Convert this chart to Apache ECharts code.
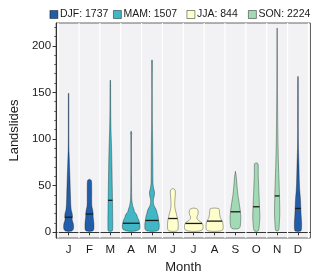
<!DOCTYPE html>
<html>
<head>
<meta charset="utf-8">
<script src="https://cdn.jsdelivr.net/npm/echarts@6/dist/echarts.min.js"></script>
<style>
html,body{margin:0;padding:0;background:#fff;}
#chart{width:320px;height:279px;}
</style>
</head>
<body>
<div id="chart"></div>
<script>
// ---- data ----
const monthLabels = ['J','F','M','A','M','J','J','A','S','O','N','D'];
const seasonNames = ['DJF','MAM','JJA','SON'];
const seasonTotals = [1737, 1507, 844, 2224];
const seasonOfMonth = [0,0,1,1,1,2,2,2,3,3,3,0];
const medians = [16.2, 19.6, 34.3, 9.7, 12.7, 14.8, 9.5, 12, 22, 27.4, 39, 25.6];
// violin density profiles per month: [landslides, relative density]
const violinProfiles = [
  [[1,0],[1.5,3.3],[3,4.7],[6,5.1],[9,4.9],[12,4.0],[14,3.6],[17,3.9],[20,3.7],[24,2.7],[30,2.2],[40,1.9],[58,1.4],[70,1.0],[80,0.7],[88,0.4],[100,0.3],[149,0.25],[149,0]],
  [[1,0],[1.5,3.4],[3,4.4],[6,4.6],[10,4.5],[14,4.1],[17,3.8],[21,3.7],[25,3.1],[28,2.5],[32,2.3],[45,2.3],[53,2.2],[56,1.7],[57,0]],
  [[1,0],[1.5,2],[3,2.4],[10,2.5],[30,2.3],[50,2.0],[70,1.7],[90,1.3],[100,1.0],[110,0.7],[130,0.4],[163,0.25],[163,0]],
  [[1,0],[1.5,5],[3,8.2],[5,9.0],[8,8.9],[11,8.3],[13.4,7.7],[16,6.5],[18.7,5.7],[22,3.5],[25.8,2.5],[28,1.7],[32,1],[36,0.6],[50,0.4],[80,0.3],[104,0.4],[106.5,0.6],[108.5,0]],
  [[1,0],[1.5,5],[3,7],[6,7.4],[9.6,7.3],[13,6.7],[17,6.2],[20,5.4],[24,4.4],[28,2.4],[31,1.5],[35,1.4],[39,2.3],[43,2.6],[47,1.7],[52,1],[60,0.9],[80,0.8],[100,0.6],[115,0.4],[150,0.3],[181,0.4],[183,0.6],[185,0]],
  [[1,0],[1.5,4],[3,5.2],[6,5.5],[10,5.4],[14,4.9],[17,4.2],[21,3.3],[25,2.3],[29,1.9],[34,2],[38,2.3],[43,2.6],[45.5,2.2],[47,0]],
  [[1,0],[1.5,6],[3,9],[5,9.5],[8,9.3],[10.5,8],[12.5,5],[15,3.2],[17,3.4],[19,4.3],[21.5,4.6],[24,4.1],[25.3,3],[26,0]],
  [[1,0],[1.5,6],[3,8.4],[6,8.7],[9,8.5],[11.5,8],[13.5,7],[16,5.8],[19,5.3],[22,5],[24.5,4.8],[25.5,4.2],[26,0]],
  [[3.5,0],[4,3.5],[6,4.8],[9,5.2],[12,5.4],[16,5.5],[19,5.3],[23,5],[26,4.6],[30,4],[33,3.6],[38,2.8],[43.5,2.2],[50,1.6],[54,1.3],[60,0.8],[65.4,0]],
  [[1,0],[1.5,2],[4,2.8],[9,3.2],[14,3.6],[19,3.6],[25,3.4],[30,3.2],[36,3],[45,2.6],[54,2.3],[62,2],[70,2],[73.5,1.8],[74.5,0]],
  [[1.5,0],[2,1.5],[5,2],[12,2.4],[20,2.7],[26,2.7],[39,2.4],[54,2],[72,1.4],[90,1],[110,0.7],[150,0.4],[190,0.3],[218.8,0.25],[218.8,0]],
  [[1,0],[1.5,3],[4,3.6],[9.9,3.7],[18.7,3.2],[26,2.9],[36,2.5],[45,1.8],[54,1.4],[72,1],[90,0.5],[110,0.35],[167,0.25],[167,0]]
];
const yTicks = [0, 50, 100, 150, 200];
const yMinorTicks = [10,20,30,40,60,70,80,90,110,120,130,140,160,170,180,190,210,220];

// ---- chart ----
const seasonColors = ['#225ea8', '#41b6c4', '#ffffcc', '#a1dab4'];
const REF_BAND = 21.34;
const FONT = '"Liberation Sans", Arial, sans-serif';

function densityAt(prof, v) {
  for (let i = 0; i < prof.length - 1; i++) {
    const a = prof[i], b = prof[i + 1];
    if (v >= a[0] && v <= b[0]) {
      const t = b[0] === a[0] ? 0 : (v - a[0]) / (b[0] - a[0]);
      return a[1] + t * (b[1] - a[1]);
    }
  }
  return 0;
}

function renderViolin(params, api) {
  const m = api.value(0);
  const prof = violinProfiles[m - 1];
  const cx = api.coord([m, 0])[0];
  const scale = api.size([1, 0])[0] / REF_BAND;
  const right = [], left = [];
  prof.forEach(function (p) {
    const y = api.coord([m, p[0]])[1];
    right.push([cx + p[1] * scale, y]);
    left.push([cx - p[1] * scale, y]);
  });
  const pts = right.concat(left.reverse());
  const med = medians[m - 1];
  const hw = densityAt(prof, med) * scale;
  const ym = api.coord([m, med])[1];
  return {
    type: 'group',
    children: [
      { type: 'polygon', shape: { points: pts, smooth: 0.25 },
        style: { fill: api.visual('color'), stroke: 'rgba(0,0,0,0.55)', lineWidth: 0.6 } },
      { type: 'line', shape: { x1: cx - hw, y1: ym, x2: cx + hw, y2: ym },
        style: { stroke: '#1a1a1a', lineWidth: 1.3 } }
    ]
  };
}

const series = seasonNames.map(function (s, si) {
  const data = [];
  seasonOfMonth.forEach(function (so, mi) { if (so === si) data.push([mi + 1, medians[mi]]); });
  return {
    type: 'custom',
    name: s + ': ' + seasonTotals[si],
    renderItem: renderViolin,
    itemStyle: { color: seasonColors[si] },
    encode: { x: 0, y: 1 },
    data: data,
    z: 3
  };
});

// white vertical separators between months
const sepPositions = monthLabels.map(function (_, i) { return i + 0.5; }).concat([monthLabels.length + 0.5]);
series.push({
  type: 'custom',
  name: 'sep',
  silent: true,
  z: 1,
  renderItem: function (params, api) {
    const x = api.coord([api.value(0), 0])[0];
    const top = api.coord([api.value(0), 224.4])[1];
    const bot = api.coord([api.value(0), -6.1])[1];
    return { type: 'line', shape: { x1: x, y1: top, x2: x, y2: bot }, style: { stroke: '#ffffff', lineWidth: 1.2 } };
  },
  encode: { x: 0, y: 1 },
  data: sepPositions.map(function (p) { return [p, 0]; })
});

const legendLefts = [49.5, 113, 186.5, 248];
const legends = seasonNames.map(function (s, si) {
  return {
    data: [s + ': ' + seasonTotals[si]],
    left: legendLefts[si],
    top: 9,
    padding: 0,
    itemWidth: 8,
    itemHeight: 8,
    icon: 'rect',
    itemStyle: { borderColor: 'rgba(0,0,0,0.55)', borderWidth: 0.8 },
    textStyle: { fontFamily: FONT, fontSize: 10.5, color: '#1a1a1a', padding: [0, 0, 0, -3] },
    selectedMode: false
  };
});

const chart = echarts.init(document.getElementById('chart'), null, { renderer: 'canvas' });
chart.setOption({
  animation: false,
  backgroundColor: '#ffffff',
  legend: legends,
  grid: {
    left: 49.5, top: 23, width: 261, height: 217,
    show: true, backgroundColor: '#f2f2f4', borderColor: '#666', borderWidth: 1
  },
  xAxis: {
    type: 'value', min: 0.4, max: 12.6,
    name: 'Month', nameLocation: 'middle', nameGap: 23,
    nameTextStyle: { fontFamily: FONT, fontSize: 13, color: '#1a1a1a' },
    axisLine: { show: true, lineStyle: { color: '#333', width: 1 } },
    axisTick: { show: true, length: 3, customValues: monthLabels.map(function (_, i) { return i + 1; }), lineStyle: { color: '#333' } },
    axisLabel: { show: true, margin: 6, customValues: monthLabels.map(function (_, i) { return i + 1; }),
      formatter: function (v) { return monthLabels[Math.round(v) - 1] || ''; },
      fontFamily: FONT, fontSize: 11.5, color: '#1a1a1a' },
    splitLine: { show: false }
  },
  yAxis: [{
    type: 'value', min: -6.1, max: 224.4,
    name: 'Landslides', nameLocation: 'middle', nameGap: 30,
    nameTextStyle: { fontFamily: FONT, fontSize: 13, color: '#1a1a1a' },
    axisLine: { show: true, lineStyle: { color: '#333', width: 1 } },
    axisTick: { show: true, length: 3.5, customValues: yTicks, lineStyle: { color: '#333' } },
    axisLabel: { show: true, margin: 5, customValues: yTicks, fontFamily: FONT, fontSize: 11.5, color: '#1a1a1a' },
    splitLine: { show: false }
  }, {
    type: 'value', min: -6.1, max: 224.4, position: 'left',
    axisLine: { show: false },
    axisTick: { show: true, length: 1.8, customValues: yMinorTicks, lineStyle: { color: '#555' } },
    axisLabel: { show: false },
    splitLine: { show: false }
  }],
  series: series
});
</script>
</body>
</html>
